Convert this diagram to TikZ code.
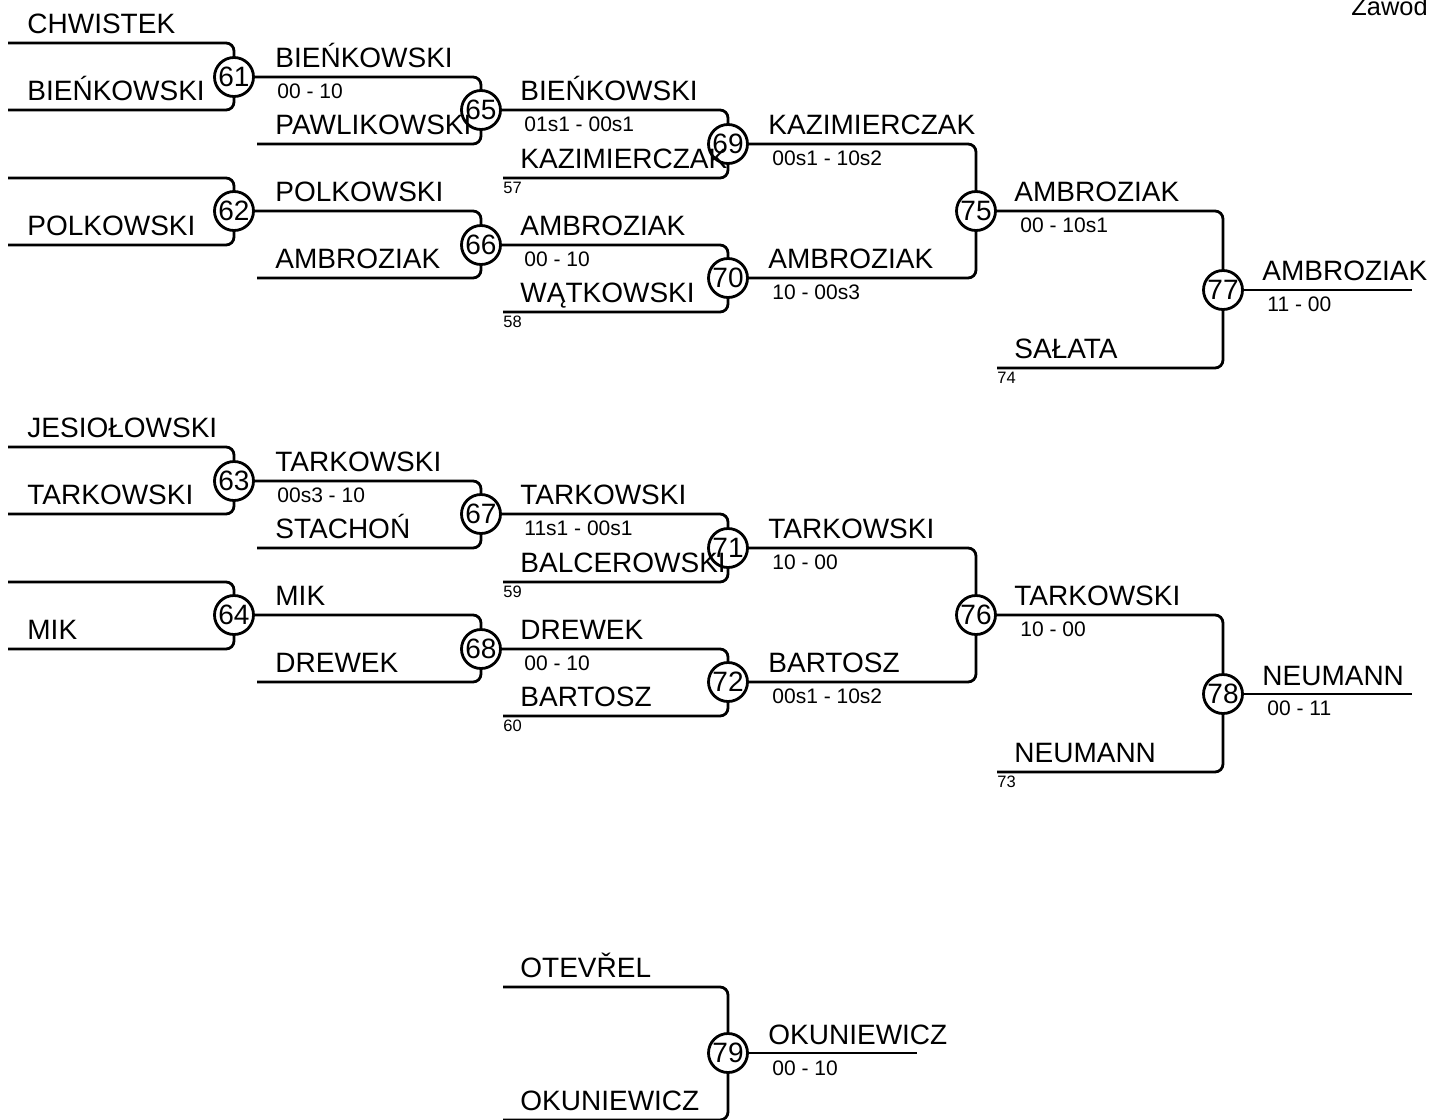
\documentclass[tikz,border=0pt]{standalone}
\usepackage{fontspec}
\setmainfont{Liberation Sans}

\begin{document}
\begin{tikzpicture}[x=0.5pt, y=-0.5pt]
%[canvas in pixels of the reference, y going down]

\tikzstyle{match}=[draw=black, circle, line width=1.4pt, minimum
size=19.5pt, inner sep=0pt, font=\fontsize{14}{14}\selectfont]
\tikzstyle{player}=[anchor=base west, inner sep=0pt, font=\fontsize{14}{14}\selectfont]
\tikzstyle{result}=[anchor=base west, inner sep=0pt, font=\fontsize{10.5}{10.5}\selectfont]
\tikzstyle{seednum}=[anchor=base west, inner sep=0pt, font=\fontsize{8.25}{8.25}\selectfont]
\tikzstyle{wire}=[line width=1.4pt, rounded corners=4pt]

\useasboundingbox (0,0) rectangle (1431,1120);
\clip (0,0) rectangle (1431,1120);

\node[player, font=\fontsize{12.7}{12.7}\selectfont] (title) at (1351,15) {Zawod};

% upper bracket
\node[match] (m61) at (234,77) {61};
\node[match] (m62) at (234,211) {62};
\node[match] (m65) at (481,110) {65};
\node[match] (m66) at (481,245) {66};
\node[match] (m69) at (728,144) {69};
\node[match] (m70) at (728,278) {70};
\node[match] (m75) at (976,211) {75};
\node[match] (m77) at (1223,290) {77};

\coordinate (u1) at (8,43);
\coordinate (u2) at (8,110);
\coordinate (u3) at (8,178);
\coordinate (u4) at (8,245);
\coordinate (u5) at (257,144);
\coordinate (u6) at (257,278);
\coordinate (u7) at (503,178);
\coordinate (u8) at (503,312);
\coordinate (u9) at (997,368);
\coordinate (uend) at (1412,290);

\draw[wire] (u1) -| (m61.north);
\draw[wire] (u2) -| (m61.south);
\draw[wire] (u3) -| (m62.north);
\draw[wire] (u4) -| (m62.south);
\draw[wire] (m61.east) -| (m65.north);
\draw[wire] (u5) -| (m65.south);
\draw[wire] (m62.east) -| (m66.north);
\draw[wire] (u6) -| (m66.south);
\draw[wire] (m65.east) -| (m69.north);
\draw[wire] (u7) -| (m69.south);
\draw[wire] (m66.east) -| (m70.north);
\draw[wire] (u8) -| (m70.south);
\draw[wire] (m69.east) -| (m75.north);
\draw[wire] (m70.east) -| (m75.south);
\draw[wire] (m75.east) -| (m77.north);
\draw[wire] (u9) -| (m77.south);
\draw[wire] (m77.east) -- (uend);

\node[player] (un1) at (27,33) {CHWISTEK};
\node[player] (un2) at (27,100) {BIEŃKOWSKI};
\node[player] (un3) at (27,235) {POLKOWSKI};
\node[player] (un4) at (275,67) {BIEŃKOWSKI};
\node[player] (un5) at (275,134) {PAWLIKOWSKI};
\node[player] (un6) at (275,201) {POLKOWSKI};
\node[player] (un7) at (275,268) {AMBROZIAK};
\node[player] (un8) at (520,100) {BIEŃKOWSKI};
\node[player] (un9) at (520,168) {KAZIMIERCZAK};
\node[player] (un10) at (520,235) {AMBROZIAK};
\node[player] (un11) at (520,302) {WĄTKOWSKI};
\node[player] (un12) at (768,134) {KAZIMIERCZAK};
\node[player] (un13) at (768,268) {AMBROZIAK};
\node[player] (un14) at (1014,201) {AMBROZIAK};
\node[player] (un15) at (1014,358) {SAŁATA};
\node[player] (un16) at (1262,280) {AMBROZIAK};

\node[result] (us1) at (277,98) {00 - 10};
\node[result] (us2) at (524,131) {01s1 - 00s1};
\node[result] (us3) at (524,266) {00 - 10};
\node[result] (us4) at (772,165) {00s1 - 10s2};
\node[result] (us5) at (772,299) {10 - 00s3};
\node[result] (us6) at (1020,232) {00 - 10s1};
\node[result] (us7) at (1267,311) {11 - 00};

\node[seednum] (ud1) at (503,193) {57};
\node[seednum] (ud2) at (503,327) {58};
\node[seednum] (ud3) at (997,383) {74};

% lower bracket
\node[match] (m63) at (234,481) {63};
\node[match] (m64) at (234,615) {64};
\node[match] (m67) at (481,514) {67};
\node[match] (m68) at (481,649) {68};
\node[match] (m71) at (728,548) {71};
\node[match] (m72) at (728,682) {72};
\node[match] (m76) at (976,615) {76};
\node[match] (m78) at (1223,694) {78};

\coordinate (l1) at (8,447);
\coordinate (l2) at (8,514);
\coordinate (l3) at (8,582);
\coordinate (l4) at (8,649);
\coordinate (l5) at (257,548);
\coordinate (l6) at (257,682);
\coordinate (l7) at (503,582);
\coordinate (l8) at (503,716);
\coordinate (l9) at (997,772);
\coordinate (lend) at (1412,694);

\draw[wire] (l1) -| (m63.north);
\draw[wire] (l2) -| (m63.south);
\draw[wire] (l3) -| (m64.north);
\draw[wire] (l4) -| (m64.south);
\draw[wire] (m63.east) -| (m67.north);
\draw[wire] (l5) -| (m67.south);
\draw[wire] (m64.east) -| (m68.north);
\draw[wire] (l6) -| (m68.south);
\draw[wire] (m67.east) -| (m71.north);
\draw[wire] (l7) -| (m71.south);
\draw[wire] (m68.east) -| (m72.north);
\draw[wire] (l8) -| (m72.south);
\draw[wire] (m71.east) -| (m76.north);
\draw[wire] (m72.east) -| (m76.south);
\draw[wire] (m76.east) -| (m78.north);
\draw[wire] (l9) -| (m78.south);
\draw[wire] (m78.east) -- (lend);

\node[player] (ln1) at (27,437) {JESIOŁOWSKI};
\node[player] (ln2) at (27,504) {TARKOWSKI};
\node[player] (ln3) at (27,639) {MIK};
\node[player] (ln4) at (275,471) {TARKOWSKI};
\node[player] (ln5) at (275,538) {STACHOŃ};
\node[player] (ln6) at (275,605) {MIK};
\node[player] (ln7) at (275,672) {DREWEK};
\node[player] (ln8) at (520,504) {TARKOWSKI};
\node[player] (ln9) at (520,572) {BALCEROWSKI};
\node[player] (ln10) at (520,639) {DREWEK};
\node[player] (ln11) at (520,706) {BARTOSZ};
\node[player] (ln12) at (768,538) {TARKOWSKI};
\node[player] (ln13) at (768,672) {BARTOSZ};
\node[player] (ln14) at (1014,605) {TARKOWSKI};
\node[player] (ln15) at (1014,762) {NEUMANN};
\node[player] (ln16) at (1262,685) {NEUMANN};

\node[result] (ls1) at (277,502) {00s3 - 10};
\node[result] (ls2) at (524,535) {11s1 - 00s1};
\node[result] (ls3) at (524,670) {00 - 10};
\node[result] (ls4) at (772,569) {10 - 00};
\node[result] (ls5) at (772,703) {00s1 - 10s2};
\node[result] (ls6) at (1020,636) {10 - 00};
\node[result] (ls7) at (1267,715) {00 - 11};

\node[seednum] (ld1) at (503,597) {59};
\node[seednum] (ld2) at (503,731) {60};
\node[seednum] (ld3) at (997,787) {73};

% third place
\node[match] (m79) at (728,1053) {79};
\coordinate (t1) at (503,987);
\coordinate (t2) at (503,1120);
\coordinate (tend) at (917,1053);
\draw[wire] (t1) -| (m79.north);
\draw[wire] (t2) -| (m79.south);
\draw[wire] (m79.east) -- (tend);

\node[player] (tn1) at (520,977) {OTEVŘEL};
\node[player] (tn2) at (520,1110) {OKUNIEWICZ};
\node[player] (tn3) at (768,1044) {OKUNIEWICZ};
\node[result] (ts1) at (772,1075) {00 - 10};
\end{tikzpicture}
\end{document}
